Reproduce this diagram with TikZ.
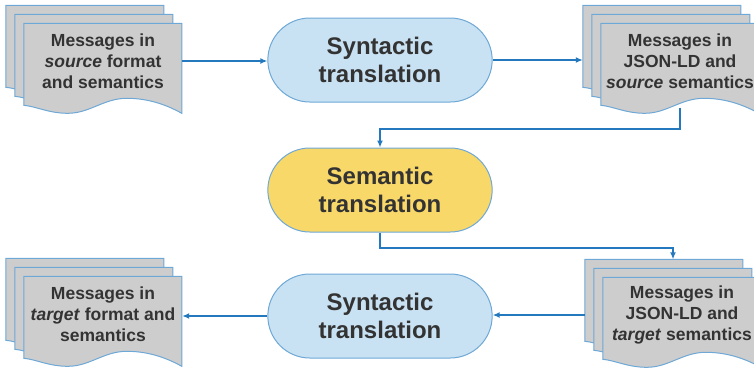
\documentclass[tikz,border=0pt]{standalone}
\usepackage{fontspec}
\setmainfont{Liberation Sans}
\usetikzlibrary{arrows.meta,shapes.misc,backgrounds}

\definecolor{flowblue}{HTML}{2378BE}
\definecolor{edgeblue}{HTML}{6EA8D6}
\definecolor{pillblue}{HTML}{C8E2F3}
\definecolor{pillyellow}{HTML}{F9D86A}
\definecolor{sheetgray}{HTML}{CDCDCD}
\definecolor{ink}{HTML}{333333}

% three stacked pages with a wavy bottom, behind a message node
\newcommand{\msgstack}[1]{%
  \begin{scope}[on background layer]
  \foreach \d in {18,9,0}{
    \path ([shift={(-\d pt,\d pt)}]#1.north west) coordinate (o);
    \filldraw[sheet,shift={(o)}] (0,0) -- (158,0) -- (158,90)
      .. controls (140,80) and (122,75) .. (103,75)
      .. controls (80,75) and (66,90) .. (44,90)
      .. controls (25,90) and (12,83) .. (0,82) -- cycle;
  }
  \end{scope}}

\begin{document}
\begin{tikzpicture}[x=1pt,y=-1pt,
    msg/.style={minimum width=158pt, minimum height=75pt, inner sep=0pt, align=center, text=ink,
      font=\fontsize{17.5}{21}\selectfont\bfseries},
    sheet/.style={fill=sheetgray, draw=edgeblue, line width=1pt},
    pill/.style={rounded rectangle, draw=edgeblue, line width=1pt, minimum width=231pt,
      minimum height=84pt, align=center, text=ink, font=\fontsize{24}{28.5}\selectfont\bfseries},
    flow/.style={draw=flowblue, line width=2pt, -{Latex[length=7pt,width=6pt]}}]

    \useasboundingbox (0,0) rectangle (754,368);

    \node[msg] (srcmsg) at (103,61) {Messages in\\\textit{source} format\\and semantics};
    \node[pill, fill=pillblue] (syn1) at (380,60) {Syntactic\\translation};
    \node[msg] (jsonsrc) at (680,61) {Messages in\\JSON-LD and\\\textit{source} semantics};
    \node[pill, fill=pillyellow] (sem) at (380,190) {Semantic\\translation};
    \node[msg] (jsontgt) at (682,315) {Messages in\\JSON-LD and\\\textit{target} semantics};
    \node[pill, fill=pillblue] (syn2) at (380,316) {Syntactic\\translation};
    \node[msg] (tgtmsg) at (103,314) {Messages in\\\textit{target} format and\\semantics};

    \msgstack{srcmsg}
    \msgstack{jsonsrc}
    \msgstack{jsontgt}
    \msgstack{tgtmsg}

    \draw[flow] (srcmsg.east) -- (srcmsg.east -| syn1.west);
    \draw[flow] (syn1.east) -- ([xshift=-18pt]syn1.east -| jsonsrc.west);
    \draw[flow] ([yshift=-9pt]jsonsrc.south) -- ++(0,21) -| (sem.north);
    \draw[flow] (sem.south) -- ++(0,15) -| ([shift={(-9pt,18pt)}]jsontgt.north);
    \draw[flow] ([xshift=-18pt]jsontgt.west) -- (jsontgt.west -| syn2.east);
    \draw[flow] (syn2.west) -- (syn2.west -| tgtmsg.east);
    %
\end{tikzpicture}
\end{document}
